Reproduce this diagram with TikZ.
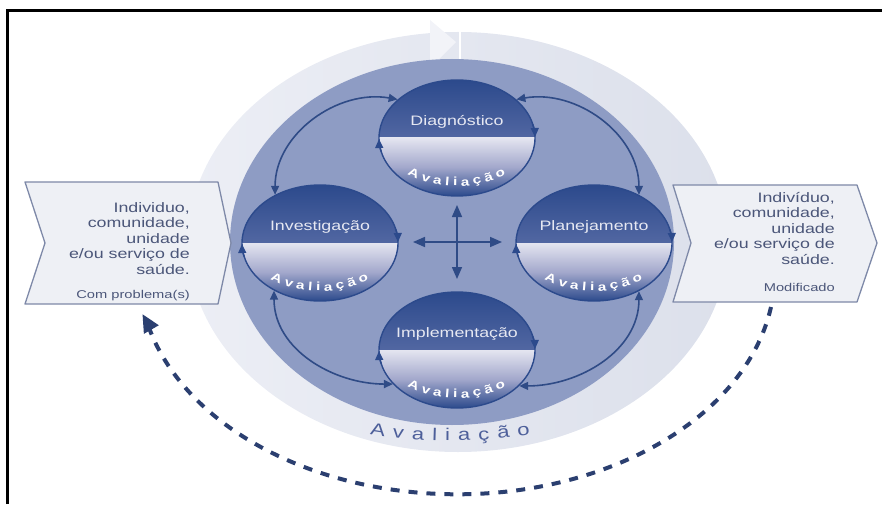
\documentclass[tikz,border=0pt]{standalone}
\usepackage{fontspec}
\setmainfont{Liberation Sans}[FakeStretch=1.3]
\usepackage{xcolor}
\usetikzlibrary{arrows.meta,shapes.geometric,decorations.text}

\definecolor{ringlight}{HTML}{ECEEF5}
\definecolor{ringdark}{HTML}{DCE0EB}
\definecolor{ringtip}{HTML}{F2F3F8}
\definecolor{discblue}{HTML}{8E9CC4}
\definecolor{stagedark}{HTML}{2C4A8C}
\definecolor{stagemid}{HTML}{7783B8}
\definecolor{bandmid}{HTML}{A3A8CC}
\definecolor{stageband}{HTML}{E4E5F0}
\definecolor{stagetext}{HTML}{E6E8F2}
\definecolor{flowblue}{HTML}{2F4B86}
\definecolor{boxfill}{HTML}{EEF0F5}
\definecolor{boxedge}{HTML}{7E89A8}
\definecolor{boxtext}{HTML}{4B5679}
\definecolor{loopblue}{HTML}{2B3F70}
\definecolor{ringtext}{HTML}{4D5F9A}

\newcommand\evalfont{\fontsize{11.8}{11.8}\selectfont\bfseries\color{white}}
\newcommand\ringfont{\fontsize{17}{17}\selectfont\color{ringtext}}

\tikzset{
  stage/.style={ellipse, minimum width=156pt, minimum height=116pt, inner sep=0pt,
    draw=stagedark, line width=1.4pt,
    path picture={
      \shade[top color=stagedark, bottom color=stagemid]
        (path picture bounding box.north west) rectangle (path picture bounding box.east);
      \shade[top color=stageband, bottom color=stagedark, middle color=bandmid]
        (path picture bounding box.west) rectangle (path picture bounding box.south east);
    }},
  stage title/.style={text=stagetext, font=\fontsize{13.7}{15}\selectfont, inner sep=0pt},
  flow/.style={{Triangle[length=9pt,width=8pt]}-{Triangle[length=9pt,width=8pt]},
    draw=flowblue, line width=1.6pt},
  cross/.style={{Triangle[length=12pt,width=10pt]}-{Triangle[length=12pt,width=10pt]},
    draw=flowblue, line width=1.6pt},
  rim tip/.style={-{Triangle[length=9pt,width=8pt]}, draw=stagedark, line width=1.4pt},
  client box/.style={draw=boxedge, fill=boxfill, line width=1.3pt, line join=round},
  client text/.style={text=boxtext, align=right, font=\fontsize{13.7}{15.5}\selectfont, inner sep=0pt},
  client note/.style={text=boxtext, font=\fontsize{11.3}{13}\selectfont, inner sep=0pt},
  loopback/.style={draw=loopblue, line width=4pt, dash pattern=on 9pt off 9pt,
    -{Triangle[length=18pt,width=16pt]}},
}

\begin{document}
\begin{tikzpicture}[x=1pt, y=1pt]
  \useasboundingbox (0,0) rectangle (882,504);
  % frame, only its top and left edges are in view
  \draw[line width=3pt] (7,0) -- (7,493) -- (882,493);

  % outer evaluation ring, its arrow head at the top
  \shade[left color=ringlight, right color=ringdark] (458,262) ellipse[x radius=270, y radius=210];
  \fill[ringtip] (430,484) -- (456,462) -- (430,436) -- cycle;
  \draw[white, line width=1.5pt] (460,475) -- (460,440);

  % inner disc
  \fill[discblue] (452,262) ellipse[x radius=222, y radius=183];

  % the client before and after
  \draw[client box] (25,322) -- (218,322) -- (231,261) -- (218,200) -- (25,200) -- (45,261) -- cycle;
  \node[client text, anchor=north east] (before) at (190,302)
    {Individuo,\\comunidade,\\unidade\\e/ou serviço de\\saúde.};
  \node[client note, anchor=base east] (beforenote) at (190,206) {Com problema(s)};
  \draw[client box] (673,319) -- (857,319) -- (877,261) -- (857,202) -- (673,202) -- (691,261) -- cycle;
  \node[client text, anchor=north east] (after) at (835,312)
    {Indivíduo,\\comunidade,\\unidade\\e/ou serviço de\\saúde.};
  \node[client note, anchor=base east] (afternote) at (835,213) {Modificado};

  % the four stages
  \foreach \nm/\cx/\cy/\ttl in {diag/457/366/Diagnóstico, inv/320/261/Investigação,
      plan/594/261/Planejamento, impl/457/154/Implementação}{
    \node[stage] (\nm) at (\cx,\cy) {};
    \node[stage title] (\nm-title) at ([yshift=16pt]\nm.center) {\ttl};
    \path[decorate, decoration={text along path, text align=fit to path,
        text={|\evalfont|Avaliação}}]
      (\nm.center) ++(229:76 and 48) arc[start angle=229, end angle=310, x radius=76, y radius=48];
    \draw[rim tip] (\nm.center) ++(14:78 and 58) arc[start angle=14, end angle=1, x radius=78, y radius=58];
    \draw[rim tip] (\nm.center) ++(194:78 and 58) arc[start angle=194, end angle=181, x radius=78, y radius=58];
  }

  % links between stages
  \draw[flow] (diag.147) to[out=170, in=90] (inv.133);
  \draw[flow] (diag.33) to[out=10, in=90] (plan.47);
  \draw[flow] (inv.226) to[out=270, in=180] (impl.208);
  \draw[flow] (impl.330) to[out=0, in=270] (plan.313);

  % cross in the middle
  \coordinate (hubN) at (457,299);
  \coordinate (hubS) at (457,225);
  \coordinate (hubW) at (413,262);
  \coordinate (hubE) at (502,262);
  \draw[cross] (hubN) -- (hubS);
  \draw[cross] (hubW) -- (hubE);

  % ring label
  \path[decorate, decoration={text along path, text align=fit to path,
      text={|\ringfont|Avaliação}}]
    (450,262) ++(255:310 and 199) arc[start angle=255, end angle=285, x radius=310, y radius=199];

  % dashed return loop
  \coordinate (loopstart) at (771,197);
  \draw[loopback] (loopstart) arc[start angle=-9, end angle=-166, x radius=318, y radius=222]
    to[out=112, in=-60] ++(-6,12);
\end{tikzpicture}
\end{document}
